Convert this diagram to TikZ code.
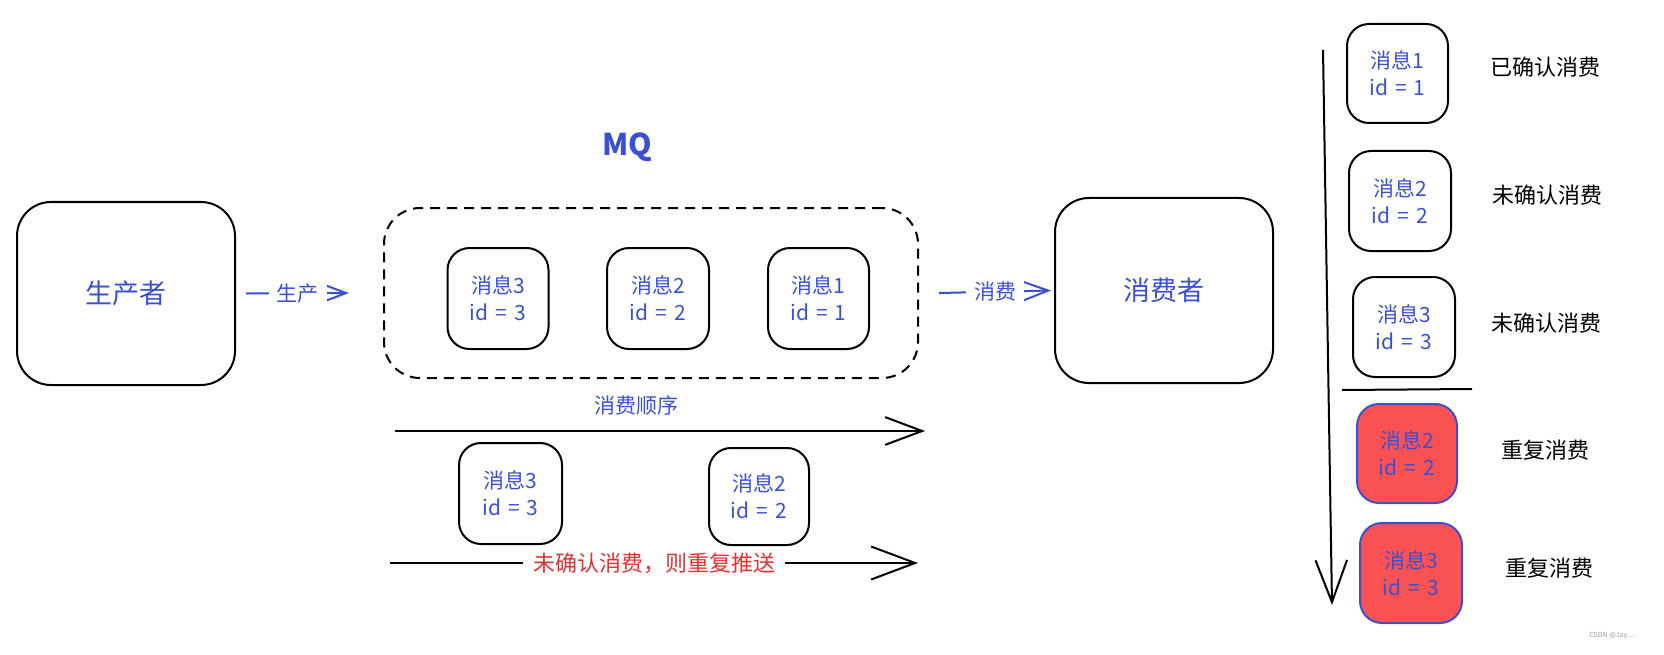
\documentclass[tikz,border=0pt]{standalone}
\usepackage{fontspec}
\setmainfont{Noto Sans CJK SC}
\usetikzlibrary{arrows.meta,calc}
\definecolor{txtblue}{RGB}{58,80,210}
\definecolor{boxred}{RGB}{250,82,82}
\definecolor{txtred}{RGB}{224,49,49}
\begin{document}
\begin{tikzpicture}[x=1pt,y=-1pt,
  bigbox/.style={draw, line width=2pt, rounded corners=34pt, inner sep=0pt, text=txtblue,
     font=\fontsize{27}{30}\selectfont},
  msg/.style={draw, line width=2pt, rounded corners=22pt, inner sep=0pt,
     minimum width=101pt, minimum height=101pt, text=txtblue, align=center,
     font=\fontsize{21}{27}\selectfont},
  redmsg/.style={msg, fill=boxred, draw=txtblue, text=txtblue},
  lbl/.style={fill=white, inner xsep=8pt, inner ysep=3pt, font=\fontsize{21}{24}\selectfont},
  side/.style={font=\fontsize{22}{24}\selectfont, text=black},
  conn/.style={line width=2pt},
  barb/.style={-{Straight Barb[length=#1pt, width=0.75*#1pt]}},
]
\useasboundingbox (0,0) rectangle (1664,655);

% producer / consumer
\node[bigbox, minimum width=218pt, minimum height=183pt] (prod) at (126,293.5) {生产者};
\node[bigbox, minimum width=218pt, minimum height=185pt] (cons) at (1164,290.5) {消费者};

% MQ container
\node[draw, line width=2pt, dash pattern=on 10pt off 7pt, rounded corners=36pt,
      minimum width=534pt, minimum height=170pt, inner sep=0pt] (mq) at (651,293) {};
\node[text=txtblue, font=\fontsize{30}{32}\selectfont\bfseries] (mqlabel) at (627,147) {MQ};

% messages in MQ
\node[msg] (q3) at (498,298.5) {消息3\\id\,\,=\,\,3};
\node[msg, minimum width=102pt] (q2) at (658,298.5) {消息2\\id\,\,=\,\,2};
\node[msg] (q1) at (818.5,298.5) {消息1\\id\,\,=\,\,1};

% producer -> MQ
\draw[conn, txtblue, barb=22] ([xshift=10pt]prod.east) -- node[lbl, text=txtblue] (plbl) {生产} ([xshift=-34pt]mq.west);
% MQ -> consumer
\draw[conn, txtblue, barb=27] ([xshift=20pt]mq.east) -- node[lbl, text=txtblue] (clbl) {消费} ([xshift=-3pt]cons.west);

% consumption order arrow
\coordinate (o1) at (395,431);
\coordinate (o2) at (925,431);
\draw[conn, barb=37] (o1) -- (o2);
\node[text=txtblue, font=\fontsize{21}{22}\selectfont] (order) at (636,406) {消费顺序};

% lower messages
\node[msg, minimum width=103pt] (b3) at (510.5,493.5) {消息3\\id\,\,=\,\,3};
\node[msg, minimum width=100pt, minimum height=97pt] (b2) at (759,496.5) {消息2\\id\,\,=\,\,2};

% redelivery arrow
\coordinate (r1) at (390,563);
\coordinate (r2) at (918,563);
\draw[conn, barb=44] (r1) -- node[lbl, text=txtred, inner xsep=10pt, font=\fontsize{22}{24}\selectfont] (rlbl) {未确认消费，则重复推送} (r2);

% right column
\coordinate (v1) at (1323,50);
\coordinate (v2) at (1332,605);
\draw[conn, barb=42] (v1) -- (v2);

\node[msg, minimum width=101pt, minimum height=99pt] (s1) at (1397.5,73.5) {消息1\\id\,\,=\,\,1};
\node[msg, minimum width=102pt, minimum height=100pt] (s2) at (1400,201) {消息2\\id\,\,=\,\,2};
\node[msg, minimum width=102pt, minimum height=100pt] (s3) at (1404,327) {消息3\\id\,\,=\,\,3};
\coordinate (sep1) at (1342,390);
\coordinate (sep2) at (1472,389);
\draw[conn] (sep1) -- (sep2);
\node[redmsg, minimum width=100pt, minimum height=99pt] (s4) at (1407,453.5) {消息2\\id\,\,=\,\,2};
\node[redmsg, minimum width=102pt, minimum height=100pt] (s5) at (1411,573) {消息3\\id\,\,=\,\,3};

\node[side] (t1) at (1545,67) {已确认消费};
\node[side] (t2) at (1547,195) {未确认消费};
\node[side] (t3) at (1546,323) {未确认消费};
\node[side] (t4) at (1545,450) {重复消费};
\node[side] (t5) at (1549,568) {重复消费};

\node[text=black!40, font=\fontsize{7}{8}\selectfont] (wm) at (1613,636) {CSDN @Jay.....};
\end{tikzpicture}
\end{document}
